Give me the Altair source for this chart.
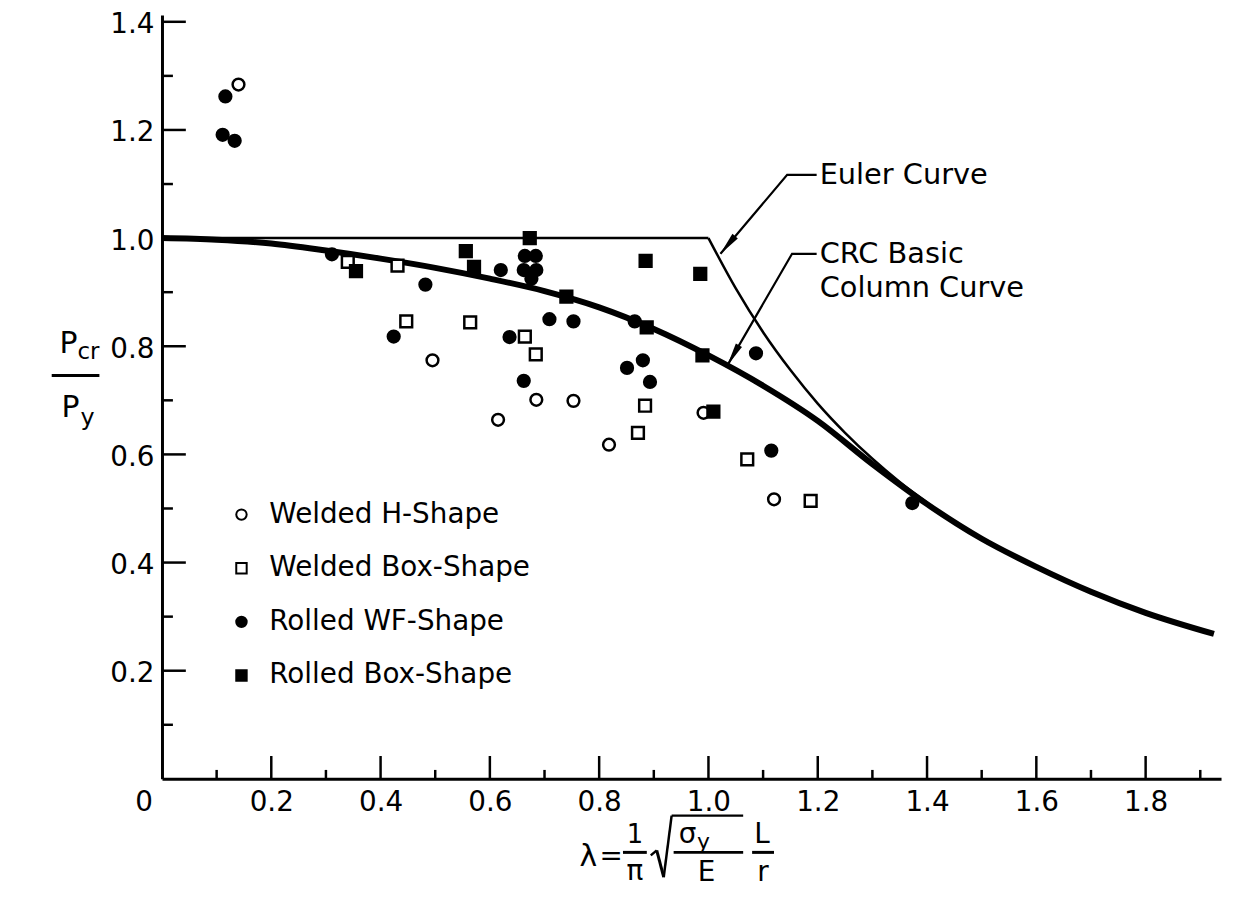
import altair as alt
import pandas as pd

F = "DejaVu Sans"

# ---------------- data ----------------
series_order = ["Welded H-Shape", "Welded Box-Shape", "Rolled WF-Shape", "Rolled Box-Shape"]

wh_lam = [0.14, 0.495, 0.615, 0.685, 0.753, 0.818, 0.991, 1.12]
wh_val = [1.284, 0.774, 0.664, 0.701, 0.699, 0.618, 0.677, 0.517]

wb_lam = [0.34, 0.431, 0.447, 0.564, 0.664, 0.684, 0.884, 0.871, 1.071, 1.187]
wb_val = [0.956, 0.949, 0.846, 0.844, 0.818, 0.785, 0.690, 0.640, 0.591, 0.514]

rw_lam = [0.116, 0.111, 0.133, 0.311, 0.482, 0.424, 0.62, 0.664, 0.684, 0.662, 0.685,
          0.676, 0.709, 0.753, 0.636, 0.662, 0.865, 0.88, 0.851, 0.893, 1.087, 1.115, 1.373]
rw_val = [1.262, 1.191, 1.180, 0.970, 0.914, 0.818, 0.941, 0.967, 0.967, 0.941, 0.941,
          0.925, 0.850, 0.846, 0.817, 0.736, 0.846, 0.774, 0.760, 0.734, 0.787, 0.607, 0.510]

rb_lam = [0.355, 0.556, 0.571, 0.673, 0.74, 0.887, 0.885, 0.985, 0.989, 1.009]
rb_val = [0.939, 0.976, 0.947, 1.000, 0.892, 0.835, 0.958, 0.934, 0.783, 0.679]

crc_lam = [0, 0.1, 0.2, 0.3, 0.4, 0.5, 0.6, 0.7, 0.8, 0.9, 1.0, 1.1, 1.2, 1.3, 1.4, 1.5, 1.6, 1.7, 1.8, 1.925]
crc_val = [1.000, 0.997, 0.990, 0.977, 0.962, 0.945, 0.925, 0.902, 0.872, 0.832, 0.783, 0.727,
           0.662, 0.582, 0.508, 0.444, 0.392, 0.346, 0.307, 0.268]

euler_flat_lam = [0.0, 1.0]
euler_flat_val = [1.0, 1.0]
euler_lam = [1.0, 1.05, 1.1, 1.15, 1.2, 1.25, 1.3, 1.35, 1.42]
euler_val = [1.0, 0.907, 0.826, 0.756, 0.694, 0.640, 0.592, 0.549, 0.496]

x_major = [0.2, 0.4, 0.6, 0.8, 1.0, 1.2, 1.4, 1.6, 1.8]
x_minor = [0.1, 0.3, 0.5, 0.7, 0.9, 1.1, 1.3, 1.5, 1.7, 1.9]
y_major = [0.2, 0.4, 0.6, 0.8, 1.0, 1.2, 1.4]
y_minor = [0.1, 0.3, 0.5, 0.7, 0.9, 1.1, 1.3]

# leader lines for the annotations (data coordinates)
lead_id = [0, 0, 0, 1, 1, 1]
lead_ord = [0, 1, 2, 0, 1, 2]
lead_lam = [1.198, 1.144, 1.022, 1.198, 1.153, 1.036]
lead_val = [1.117, 1.117, 0.971, 0.971, 0.971, 0.767]
arrow_lam = [1.035, 1.045]
arrow_val = [0.987, 0.783]
arrow_ang = [220, 210]

# ---------------- tables ----------------
rows = []
for name, ls, vs in [(series_order[0], wh_lam, wh_val), (series_order[1], wb_lam, wb_val),
                     (series_order[2], rw_lam, rw_val), (series_order[3], rb_lam, rb_val)]:
    for l, v in zip(ls, vs):
        rows.append({"lam": l, "val": v, "series": name})
pts = pd.DataFrame(rows)
crc = pd.DataFrame({"lam": crc_lam, "val": crc_val})
eflat = pd.DataFrame({"lam": euler_flat_lam, "val": euler_flat_val})
ecurve = pd.DataFrame({"lam": euler_lam, "val": euler_val})
leads = pd.DataFrame({"id": lead_id, "o": lead_ord, "lam": lead_lam, "val": lead_val})
arrows = pd.DataFrame({"lam": arrow_lam, "val": arrow_val, "ang": arrow_ang})
one = pd.DataFrame({"a": [0]})

W, H = 1066, 769

xs = alt.Scale(domain=[0, 1.938], nice=False, zero=False)
ys = alt.Scale(domain=[0, 1.4128], nice=False, zero=False)
xa = alt.Axis(values=x_major, format=".1f", ticks=False, grid=False, domainColor="black",
              domainWidth=3, labelFont=F, labelFontSize=28, labelColor="black",
              labelPadding=10, title=None, labelFlush=False)
ya = alt.Axis(values=y_major, format=".1f", ticks=False, grid=False, domainColor="black",
              domainWidth=3, labelFont=F, labelFontSize=28, labelColor="black",
              labelPadding=8, labelOffset=3, title=None, labelFlush=False)


def X(f):
    return alt.X(f, type="quantitative", scale=xs, axis=xa)


def Y(f):
    return alt.Y(f, type="quantitative", scale=ys, axis=ya)


layers = []

# inward ticks
layers.append(alt.Chart(pd.DataFrame({"v": x_major})).mark_rule(color="black", strokeWidth=2.5)
              .encode(x=X("v"), y=alt.value(H), y2=alt.value(H - 23)))
layers.append(alt.Chart(pd.DataFrame({"v": x_minor})).mark_rule(color="black", strokeWidth=2.5)
              .encode(x=X("v"), y=alt.value(H), y2=alt.value(H - 9)))
layers.append(alt.Chart(pd.DataFrame({"v": y_major})).mark_rule(color="black", strokeWidth=2.5)
              .encode(y=Y("v"), x=alt.value(0), x2=alt.value(24)))
layers.append(alt.Chart(pd.DataFrame({"v": y_minor})).mark_rule(color="black", strokeWidth=2.5)
              .encode(y=Y("v"), x=alt.value(0), x2=alt.value(11)))

# curves
layers.append(alt.Chart(eflat).mark_line(color="black", strokeWidth=2.5)
              .encode(x=X("lam"), y=Y("val")))
layers.append(alt.Chart(ecurve).mark_line(color="black", strokeWidth=2.5, interpolate="monotone")
              .encode(x=X("lam"), y=Y("val")))
layers.append(alt.Chart(crc).mark_line(color="black", strokeWidth=6, interpolate="monotone")
              .encode(x=X("lam"), y=Y("val")))

# leaders and arrowheads
layers.append(alt.Chart(leads).mark_line(color="black", strokeWidth=2.2)
              .encode(x=X("lam"), y=Y("val"), detail="id:N", order="o:Q"))
layers.append(alt.Chart(arrows).mark_point(shape="M0,-1L0.3,1L-0.3,1Z", filled=True, color="black",
                                           size=560, opacity=1)
              .encode(x=X("lam"), y=Y("val"), angle=alt.Angle("ang:Q", scale=None)))

# data points with legend
leg = alt.Legend(orient="none", legendX=66, legendY=489, title=None, labelFont=F,
                 labelFontSize=28, labelColor="black", labelLimit=0, symbolSize=110,
                 symbolStrokeWidth=2, labelOffset=14, rowPadding=26, padding=0)
layers.append(alt.Chart(pts).mark_point(filled=True, strokeWidth=2.5, size=140, opacity=1)
              .encode(x=X("lam"), y=Y("val"),
                      shape=alt.Shape("series:N", scale=alt.Scale(domain=series_order,
                                      range=["circle", "square", "circle", "square"]), legend=leg),
                      fill=alt.Fill("series:N", scale=alt.Scale(domain=series_order,
                                    range=["white", "white", "black", "black"]), legend=leg),
                      stroke=alt.Stroke("series:N", scale=alt.Scale(domain=series_order,
                                        range=["black", "black", "black", "black"]), legend=leg)))


def txt(s, x, y, size=28, align="center"):
    return (alt.Chart(one).mark_text(text=s, x=x, y=y, fontSize=size, font=F, align=align,
                                     baseline="middle", color="black")
            .encode(opacity=alt.value(1)))


def seg(x1, y1, x2, y2, w=2.5):
    return (alt.Chart(one).mark_rule(color="black", strokeWidth=w)
            .encode(x=alt.value(x1), y=alt.value(y1), x2=alt.value(x2), y2=alt.value(y2)))


# annotations
layers.append(txt("Euler Curve", 662, 161, 29, align="left"))
layers.append(txt("CRC Basic", 662, 241, 29, align="left"))
layers.append(txt("Column Curve", 662, 275, 29, align="left"))
layers.append(txt("0", -18, 793))

# y-axis title  P_cr / P_y
layers.append(txt("P", -85, 331, 30, align="right"))
layers.append(txt("cr", -85, 339, 23, align="left"))
layers.append(seg(-111, 363, -63, 363, 3))
layers.append(txt("P", -83, 396, 30, align="right"))
layers.append(txt("y", -82, 406, 24, align="left"))

# x-axis title  λ = (1/π) sqrt(σy/E) L/r
layers.append(txt("λ", 429, 848, 30))
layers.append(txt("=", 452, 848, 28))
layers.append(txt("1", 476, 826, 26))
layers.append(seg(464, 843, 488, 843, 3))
layers.append(txt("π", 476, 863, 28))
layers.append(seg(492, 846, 498, 841, 2.5))
layers.append(seg(498, 841, 505, 868, 3))
layers.append(seg(505, 868, 513, 806, 2.5))
layers.append(seg(513, 806, 585, 806, 2.5))
layers.append(txt("σ", 529, 826, 28))
layers.append(txt("y", 545, 833, 22))
layers.append(seg(515, 843, 585, 843, 3))
layers.append(txt("E", 548, 864, 28))
layers.append(txt("L", 604, 826, 28))
layers.append(seg(594, 843, 616, 843, 3))
layers.append(txt("r", 605, 864, 28))

chart = (alt.layer(*layers)
         .properties(width=W, height=H,
                     padding={"left": 155, "top": 4, "right": 6, "bottom": 118},
                     autosize=alt.AutoSizeParams(type="none"), background="white")
         .configure_view(stroke=None))

chart.save("out.html", embed_options={"renderer": "svg", "actions": False})
